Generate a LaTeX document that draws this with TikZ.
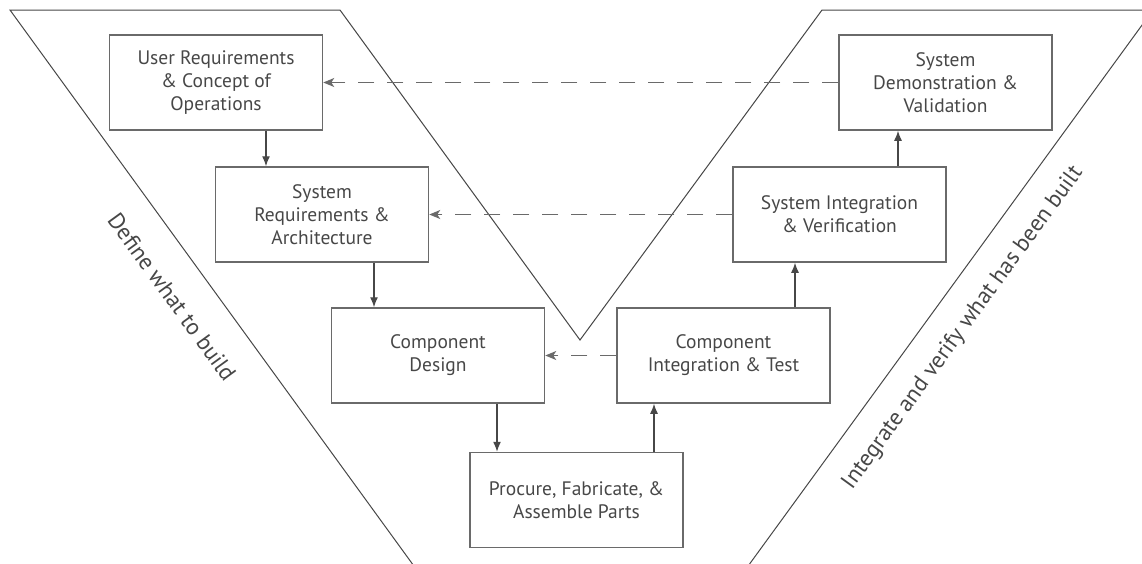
\documentclass[tikz,border=0pt]{standalone}
\usepackage{fontspec}
\setmainfont{PT Sans}
\usetikzlibrary{arrows.meta}
\definecolor{ink}{HTML}{474747}
\definecolor{frame}{HTML}{6A6A6A}
\begin{document}
\begin{tikzpicture}[x=1pt,y=-1pt,
  stage/.style={draw=frame, line width=1.5pt, minimum width=213pt, minimum height=95pt,
    align=center, text=ink, font=\fontsize{19.5}{23}\selectfont, inner sep=0pt},
  flow/.style={draw=ink, line width=1.3pt, -{Latex[length=10pt,width=8pt]}},
  trace/.style={draw=frame, line width=1.6pt, dash pattern=on 16pt off 13pt,
    -{Stealth[length=11pt,width=9pt,inset=3pt]}},
  vline/.style={draw=ink, line width=1pt},
  phase/.style={text=ink, font=\fontsize{23}{27}\selectfont, inner sep=0pt}]
\useasboundingbox (0,0) rectangle (1142,563);

% the V outline
\begin{scope}
  \clip (0,0) rectangle (1142,563);
  \draw[vline] (419,573) -- (10,10) -- (340,10) -- (580,340) -- (822,10)
    -- (1153,10) -- (743,573);
\end{scope}

% stages
\node[stage] (ur) at (216,82.5)   {User Requirements\\\& Concept of\\Operations};
\node[stage] (sr) at (322,214.5)  {System\\Requirements \&\\Architecture};
\node[stage] (cd) at (438,355.5)  {Component\\Design};
\node[stage] (pf) at (576.5,500)  {Procure, Fabricate, \&\\Assemble Parts};
\node[stage] (ci) at (723.5,355.5){Component\\Integration \& Test};
\node[stage] (si) at (839.5,214.5){System Integration\\\& Verification};
\node[stage] (sd) at (945.5,82.5) {System\\Demonstration \&\\Validation};

% downward and upward flow
\draw[flow] ([xshift=50pt]ur.south)   -- ([xshift=-56pt]sr.north);
\draw[flow] ([xshift=52pt]sr.south)   -- ([xshift=-64pt]cd.north);
\draw[flow] ([xshift=59pt]cd.south)   -- ([xshift=-79.5pt]pf.north);
\draw[flow] ([xshift=77.5pt]pf.north) -- ([xshift=-69.5pt]ci.south);
\draw[flow] ([xshift=71.5pt]ci.north) -- ([xshift=-44.5pt]si.south);
\draw[flow] ([xshift=58.5pt]si.north) -- ([xshift=-47.5pt]sd.south);

% traceability back to the definition side
\draw[trace] (sd.west) -- (ur.east);
\draw[trace] (si.west) -- (sr.east);
\draw[trace] (ci.west) -- (cd.east);

% phase labels along the outer edges
\node[phase, rotate=-54] (define) at (172,297) {Define what to build};
\node[phase, rotate=54] (integrate) at (963,328) {Integrate and verify what has been built};
\end{tikzpicture}
\end{document}
